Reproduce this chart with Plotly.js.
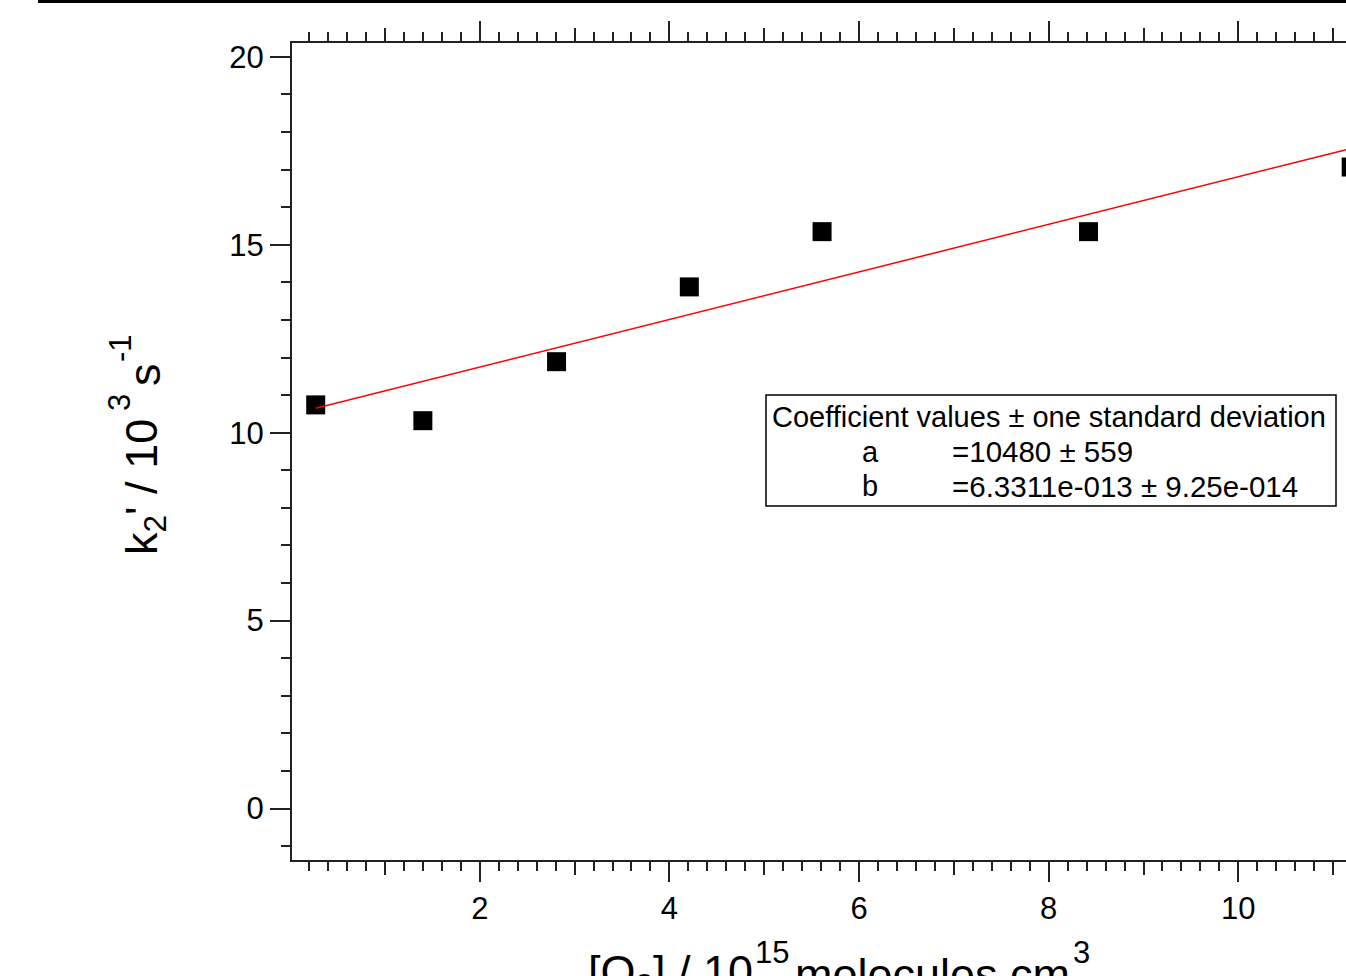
<!DOCTYPE html>
<html>
<head>
<meta charset="utf-8">
<script src="https://cdn.plot.ly/plotly-3.0.1.min.js"></script>
<style>
html, body { margin: 0; padding: 0; overflow: hidden; background: #fff; }
#chart { position: absolute; left: 0; top: 0; }
</style>
</head>
<body>
<div id="chart"></div>
<script>
// Data: [O2] / 10^15 molecules cm^-3 and k2' / 10^3 s^-1
const o2Conc = [0.27, 1.40, 2.81, 4.21, 5.61, 8.42, 11.19];
const k2Prime = [10.74, 10.32, 11.89, 13.88, 15.35, 15.35, 17.07];

// Fit coefficients (k2' = a + b [O2]) as shown in the chart
const fitA = 10480;        // s^-1
const fitB = 6.3311e-13;   // cm^3 molecule^-1 s^-1
const fitLabelHeader = "Coefficient values \u00b1 one standard deviation";
const fitLabelA = ["a", "=10480 \u00b1 559"];
const fitLabelB = ["b", "=6.3311e-013 \u00b1 9.25e-014"];

// Axis title pieces
const xTitleMain1 = "[O<sub>2</sub>] / 10";
const xTitleSup1 = "15";
const xTitleMain2 = "molecules cm";
const xTitleSup2 = "3";
const yTitleMain1 = "k<sub>2</sub>' / 10";
const yTitleSup1 = "3";
const yTitleMain2 = "s";
const yTitleSup2 = "-1";

// Fit line endpoints from the coefficients (units 10^15 and 10^3)
const fitX = [o2Conc[0], o2Conc[o2Conc.length - 1]];
const fitY = fitX.map(x => (fitA + fitB * x * 1e15) / 1e3);

const W = 1480, H = 976;
const L = 292, T = 43, R = 1428, B = 860;
const px = x => (x - L) / (R - L);
const py = y => (B - y) / (B - T);

const font = "Liberation Sans, Arial, sans-serif";
const black = "#000";

function txt(text, x, y, size, xanchor, yanchor, extra) {
  return Object.assign({
    xref: "paper", yref: "paper", x: px(x), y: py(y),
    xanchor: xanchor, yanchor: yanchor, showarrow: false, text: text,
    font: { family: font, size: size, color: black }, borderpad: 0
  }, extra || {});
}
const rot = { textangle: -90 };

const traces = [
  {
    x: o2Conc, y: k2Prime, type: "scatter", mode: "markers",
    marker: { symbol: "square", size: 19, color: black, line: { width: 0 } },
    showlegend: false
  },
  {
    x: fitX, y: fitY, type: "scatter", mode: "lines",
    line: { color: "#ff0000", width: 1.5 }, showlegend: false
  },
  { x: [], y: [], xaxis: "x2", yaxis: "y", type: "scatter", showlegend: false }
];

const tickCol = "#222";
const layout = {
  width: W, height: H,
  margin: { l: L, r: W - R, t: T, b: H - B, pad: 0 },
  paper_bgcolor: "#fff", plot_bgcolor: "#fff",
  font: { family: font, color: black },
  showlegend: false,
  xaxis: {
    range: [0.02, 12], showgrid: false, zeroline: false,
    showline: true, linecolor: tickCol, linewidth: 2, mirror: "ticks",
    ticks: "outside", ticklen: 20, tickwidth: 2, tickcolor: tickCol,
    tick0: 0, dtick: 2,
    tickfont: { family: font, size: 31, color: black },
    minor: { ticks: "outside", ticklen: 9, tickwidth: 2, tickcolor: tickCol, tick0: 0, dtick: 0.2, showgrid: false }
  },
  xaxis2: {
    overlaying: "x", anchor: "y", side: "bottom", matches: "x",
    range: [0.02, 12], showgrid: false, zeroline: false, showline: false,
    mirror: "ticks", ticks: "outside", ticklen: 14, tickwidth: 2, tickcolor: tickCol,
    tick0: 0, dtick: 1, showticklabels: false
  },
  yaxis: {
    range: [-1.37, 20.37], showgrid: false, zeroline: false,
    showline: true, linecolor: tickCol, linewidth: 2, mirror: "ticks",
    ticks: "outside", ticklen: 20, tickwidth: 2, tickcolor: tickCol,
    tick0: 0, dtick: 5,
    tickfont: { family: font, size: 31, color: black },
    minor: { ticks: "outside", ticklen: 9, tickwidth: 2, tickcolor: tickCol, tick0: 0, dtick: 1, showgrid: false }
  },
  shapes: [
    { type: "line", xref: "paper", yref: "paper", x0: px(38), x1: 1.2, y0: py(1.5), y1: py(1.5),
      line: { color: black, width: 3 } },
    { type: "rect", xref: "paper", yref: "paper", x0: px(766), x1: px(1336), y0: py(506), y1: py(395),
      line: { color: black, width: 1.5 }, fillcolor: "rgba(255,255,255,0)" }
  ],
  annotations: [
    txt(yTitleMain1, 144, 487, 45, "center", "middle", rot),
    txt(yTitleSup1, 120, 403, 31, "center", "middle", rot),
    txt(yTitleMain2, 144, 375, 45, "center", "middle", rot),
    txt(yTitleSup2, 120, 348, 31, "center", "middle", rot),
    txt(xTitleMain1, 587, 974, 45, "left", "middle"),
    txt(xTitleSup1, 754, 952, 31, "left", "middle"),
    txt(xTitleMain2, 794, 974, 45, "left", "middle"),
    txt(xTitleSup2, 1072, 952, 31, "left", "middle"),
    txt(fitLabelHeader, 771, 417, 29, "left", "middle"),
    txt(fitLabelA[0], 861, 452, 29, "left", "middle"),
    txt(fitLabelA[1], 951, 452, 29.5, "left", "middle"),
    txt(fitLabelB[0], 861, 486, 29, "left", "middle"),
    txt(fitLabelB[1], 951, 486, 29.5, "left", "middle")
  ]
};

Plotly.newPlot("chart", traces, layout, { displayModeBar: false, staticPlot: true });
</script>
</body>
</html>
